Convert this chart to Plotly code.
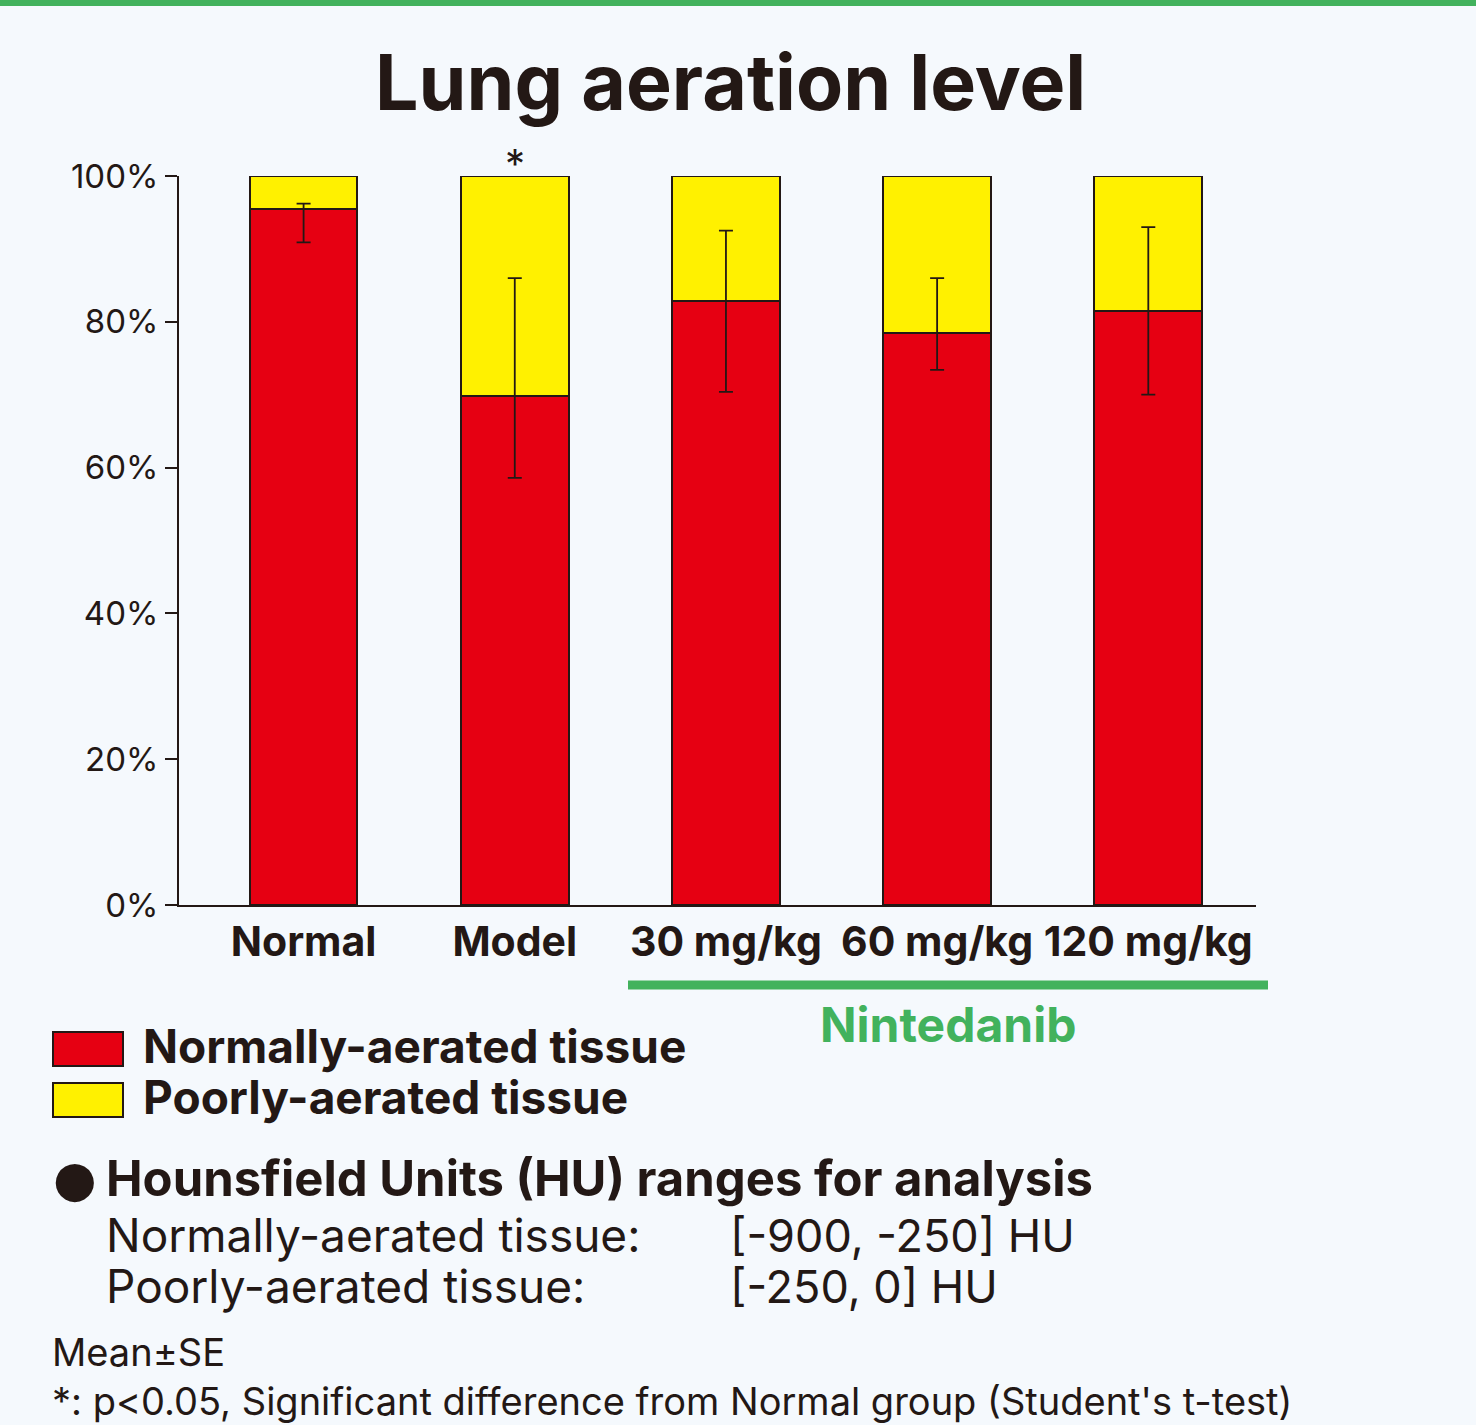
import plotly.graph_objects as go

# ---------------- data ----------------
categories = ["Normal", "Model", "30 mg/kg", "60 mg/kg", "120 mg/kg"]
normally_aerated = [95.5, 69.8, 82.9, 78.5, 81.5]
err_plus = [0.7, 16.2, 9.6, 7.5, 11.5]
err_minus = [4.6, 11.2, 12.5, 5.1, 11.5]
poorly_aerated = [100 - v for v in normally_aerated]
y_ticks = [0, 20, 40, 60, 80, 100]
y_tick_labels = ["0%", "20%", "40%", "60%", "80%", "100%"]
series_names = ["Normally-aerated tissue", "Poorly-aerated tissue"]
significant = ["Model"]
group_label = "Nintedanib"
title_text = "Lung aeration level"
hu_title = "Hounsfield Units (HU) ranges for analysis"
hu_rows = [("Normally-aerated tissue:", "[-900, -250] HU"),
           ("Poorly-aerated tissue:", "[-250, 0] HU")]
foot_lines = ["Mean±SE",
              "*: p<0.05, Significant difference from Normal group (Student's t-test)"]

# ---------------- style ----------------
W, H = 1476, 1425
L, R, T, B = 179, 1256, 176, 905
DARK = "#231815"
RED = "#e60012"
YELLOW = "#fff100"
GREEN = "#42b25d"
BG = "#f5f9fd"
FONT = "Inter"


def px(x):
    return (x - L) / (R - L)


def py(y):
    return (B - y) / (B - T)


fig = go.Figure()
fig.add_trace(go.Bar(x=categories, y=normally_aerated, name=series_names[0],
                     marker=dict(color=RED, line=dict(color=DARK, width=2)),
                     width=0.51, showlegend=False))
fig.add_trace(go.Bar(x=categories, y=poorly_aerated, name=series_names[1],
                     marker=dict(color=YELLOW, line=dict(color=DARK, width=2)),
                     width=0.51, showlegend=False))
fig.add_trace(go.Scatter(x=categories, y=normally_aerated, mode="markers",
                         marker=dict(size=1, opacity=0),
                         error_y=dict(type="data", symmetric=False, array=err_plus,
                                      arrayminus=err_minus, color=DARK,
                                      thickness=1.8, width=7),
                         showlegend=False, hoverinfo="skip"))

annotations = []
shapes = []

# title
annotations.append(dict(x=px(730), y=py(82), xref="paper", yref="paper",
                        text=f"<b>{title_text}</b>", showarrow=False,
                        font=dict(size=77, color=DARK, family=FONT),
                        xanchor="center", yanchor="middle"))
# significance
for c in significant:
    annotations.append(dict(x=c, y=100, xref="x", yref="y", text="*",
                            showarrow=False, yanchor="bottom", yshift=-14,
                            font=dict(size=40, color=DARK, family=FONT)))

# top green band
shapes.append(dict(type="rect", xref="paper", yref="paper", x0=px(0), x1=px(W),
                   y0=py(0), y1=py(6), fillcolor=GREEN, line=dict(width=0)))
# group line
shapes.append(dict(type="line", xref="paper", yref="paper", x0=px(628), x1=px(1268),
                   y0=py(985), y1=py(985), line=dict(color=GREEN, width=9)))
annotations.append(dict(x=px(948), y=py(1024), xref="paper", yref="paper",
                        text=f"<b>{group_label}</b>", showarrow=False,
                        font=dict(size=48, color=GREEN, family=FONT),
                        xanchor="center", yanchor="middle"))

# legend
for i, (name, col) in enumerate(zip(series_names, [RED, YELLOW])):
    y0 = 1032 + i * 51
    shapes.append(dict(type="rect", xref="paper", yref="paper", x0=px(53), x1=px(123),
                       y0=py(y0), y1=py(y0 + 34), fillcolor=col,
                       line=dict(color=DARK, width=2)))
    annotations.append(dict(x=px(141), y=py(y0 + 14), xref="paper", yref="paper",
                            text=f"<b>{name}</b>", showarrow=False,
                            font=dict(size=46, color=DARK, family=FONT),
                            xanchor="left", yanchor="middle"))

# HU section
annotations.append(dict(x=px(51), y=py(1179), xref="paper", yref="paper",
                        text="●", showarrow=False,
                        font=dict(size=50, color=DARK, family="DejaVu Sans"),
                        xanchor="left", yanchor="middle"))
annotations.append(dict(x=px(104), y=py(1178), xref="paper", yref="paper",
                        text=f"<b>{hu_title}</b>", showarrow=False,
                        font=dict(size=49, color=DARK, family=FONT),
                        xanchor="left", yanchor="middle"))
for i, (lab, rng) in enumerate(hu_rows):
    yy = 1235 + i * 51
    annotations.append(dict(x=px(104), y=py(yy), xref="paper", yref="paper",
                            text=lab, showarrow=False,
                            font=dict(size=46, color=DARK, family=FONT),
                            xanchor="left", yanchor="middle"))
    annotations.append(dict(x=px(728), y=py(yy), xref="paper", yref="paper",
                            text=rng, showarrow=False,
                            font=dict(size=45, color=DARK, family=FONT),
                            xanchor="left", yanchor="middle"))
# footnotes (one block)
annotations.append(dict(x=px(50), y=py(1376), xref="paper", yref="paper",
                        text="<br>".join(foot_lines), showarrow=False, align="left",
                        font=dict(size=38, color=DARK, family=FONT),
                        xanchor="left", yanchor="middle"))

fig.update_layout(
    width=W, height=H, barmode="stack",
    margin=dict(l=L, r=W - R, t=T, b=H - B, pad=0),
    paper_bgcolor=BG, plot_bgcolor=BG,
    font=dict(family=FONT, color=DARK),
    annotations=annotations, shapes=shapes,
    xaxis=dict(range=[-0.59, 4.51], showline=True, linewidth=2, linecolor=DARK,
               ticks="", showgrid=False, zeroline=False, tickangle=0,
               tickfont=dict(size=41, color=DARK, family=FONT),
               tickmode="array", tickvals=categories,
               ticktext=[f"<b>{c}</b>" for c in categories]),
    yaxis=dict(range=[0, 100], showline=True, linewidth=2, linecolor=DARK,
               ticks="outside", ticklen=12, tickwidth=2, tickcolor=DARK,
               tickvals=y_ticks, ticktext=y_tick_labels, showgrid=False,
               zeroline=False, tickfont=dict(size=33, color=DARK, family=FONT)),
)

fig.write_html("out.html", post_script="document.body.style.margin='0';",
               config={"displayModeBar": False})
